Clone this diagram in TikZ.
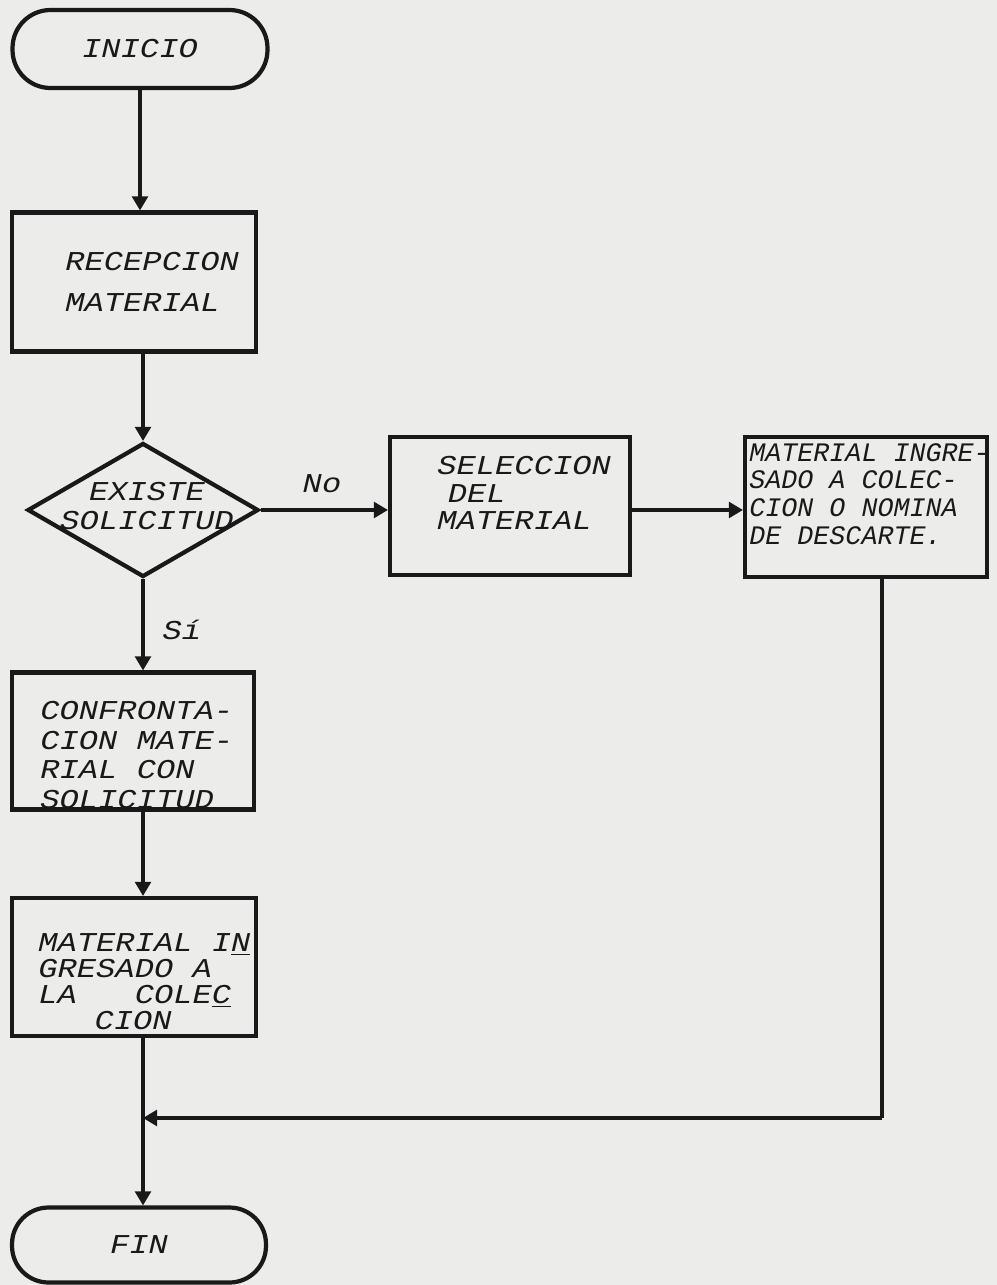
\documentclass[tikz,border=0pt]{standalone}
\usepackage{fontspec}
\newfontfamily\tw{Liberation Mono}
\newfontfamily\tws{Liberation Mono}[FakeStretch=1.18]
\usetikzlibrary{shapes.geometric,arrows.meta}
\definecolor{paper}{RGB}{236,236,234}
\definecolor{ink}{RGB}{25,25,25}
\begin{document}
\begin{tikzpicture}[x=0.02cm,y=-0.02cm,
  term/.style={draw=ink,line width=2.4pt,inner sep=0pt,text=ink,
    font=\tws\itshape\fontsize{15.5}{16}\selectfont},
  box/.style={draw=ink,line width=2.4pt,inner sep=0pt},
  decis/.style={draw=ink,line width=2.4pt,diamond,inner sep=0pt},
  lbl/.style={text=ink,inner sep=0pt,align=left},
  big/.style={font=\tws\itshape\fontsize{15.5}{#1}\selectfont},
  arr/.style={draw=ink,line width=1.8pt,-{Triangle[length=8pt,width=9pt]}},
  ln/.style={draw=ink,line width=1.8pt}]
\fill[paper] (0,0) rectangle (997,1285);
\useasboundingbox (0,0) rectangle (997,1285);

% terminals
\node[term,rounded corners=0.76cm,minimum width=5.1cm,minimum height=1.56cm] (ini) at (140,49) {INICIO};
\node[term,rounded corners=0.73cm,minimum width=5.08cm,minimum height=1.5cm] (fin) at (139,1245) {FIN};

% boxes
\node[box,minimum width=4.88cm,minimum height=2.78cm] (rec) at (134,282) {};
\node[lbl,big=23,anchor=west] (trec) at (65,282) {RECEPCION\\MATERIAL};

\node[decis,minimum width=4.62cm,minimum height=2.68cm] (dec) at (143,510) {};
\node[lbl,big=16,align=center] (tdec) at (147,506) {EXISTE\\SOLICITUD};

\node[box,minimum width=4.8cm,minimum height=2.76cm] (sel) at (510,506) {};
\node[lbl,big=15.5,anchor=west] (tsel) at (437,493) {SELECCION\\\hspace{6pt}DEL\\MATERIAL};

\node[box,minimum width=4.84cm,minimum height=2.8cm] (des) at (866,507) {};
\node[lbl,font=\tw\itshape\fontsize{15.2}{15.8}\selectfont,anchor=west] (tdes) at (749,494)
  {MATERIAL INGRE-\\SADO A COLEC-\\CION O NOMINA\\DE DESCARTE.};

\node[box,minimum width=4.84cm,minimum height=2.74cm] (conf) at (133,741) {};
\node[lbl,big=17,anchor=west] (tconf) at (40,755) {CONFRONTA-\\CION MATE-\\RIAL CON\\SOLICITUD};

\node[box,minimum width=4.88cm,minimum height=2.76cm] (mat) at (134,967) {};
\node[lbl,big=14.8,anchor=west] (tmat) at (38,982)
  {MATERIAL I\underline{N}\\GRESADO A\\LA\ \ \ COLE\underline{C}\\\hspace{32pt}CION};

% labels
\node[lbl,big=18] (lno) at (322,484) {No};
\node[lbl,big=18] (lsi) at (182,630) {Sí};

% connectors
\draw[arr] (ini.south) -- (ini.south |- rec.north);
\draw[arr] (dec.north |- rec.south) -- (dec.north);
\draw[arr] (dec.east) -- (dec.east -| sel.west);
\draw[arr] (dec.east -| sel.east) -- (dec.east -| des.west);
\draw[arr] (dec.south) -- (dec.south |- conf.north);
\draw[arr] (dec.south |- conf.south) -- (dec.south |- mat.north);
\draw[arr] (dec.south |- mat.south) -- (dec.south |- fin.north);
\coordinate (corner) at (882,1118);
\coordinate (join) at (143,1118);
\draw[ln] (corner |- des.south) -- (corner);
\draw[arr] (corner) -- (join);
\end{tikzpicture}
\end{document}
